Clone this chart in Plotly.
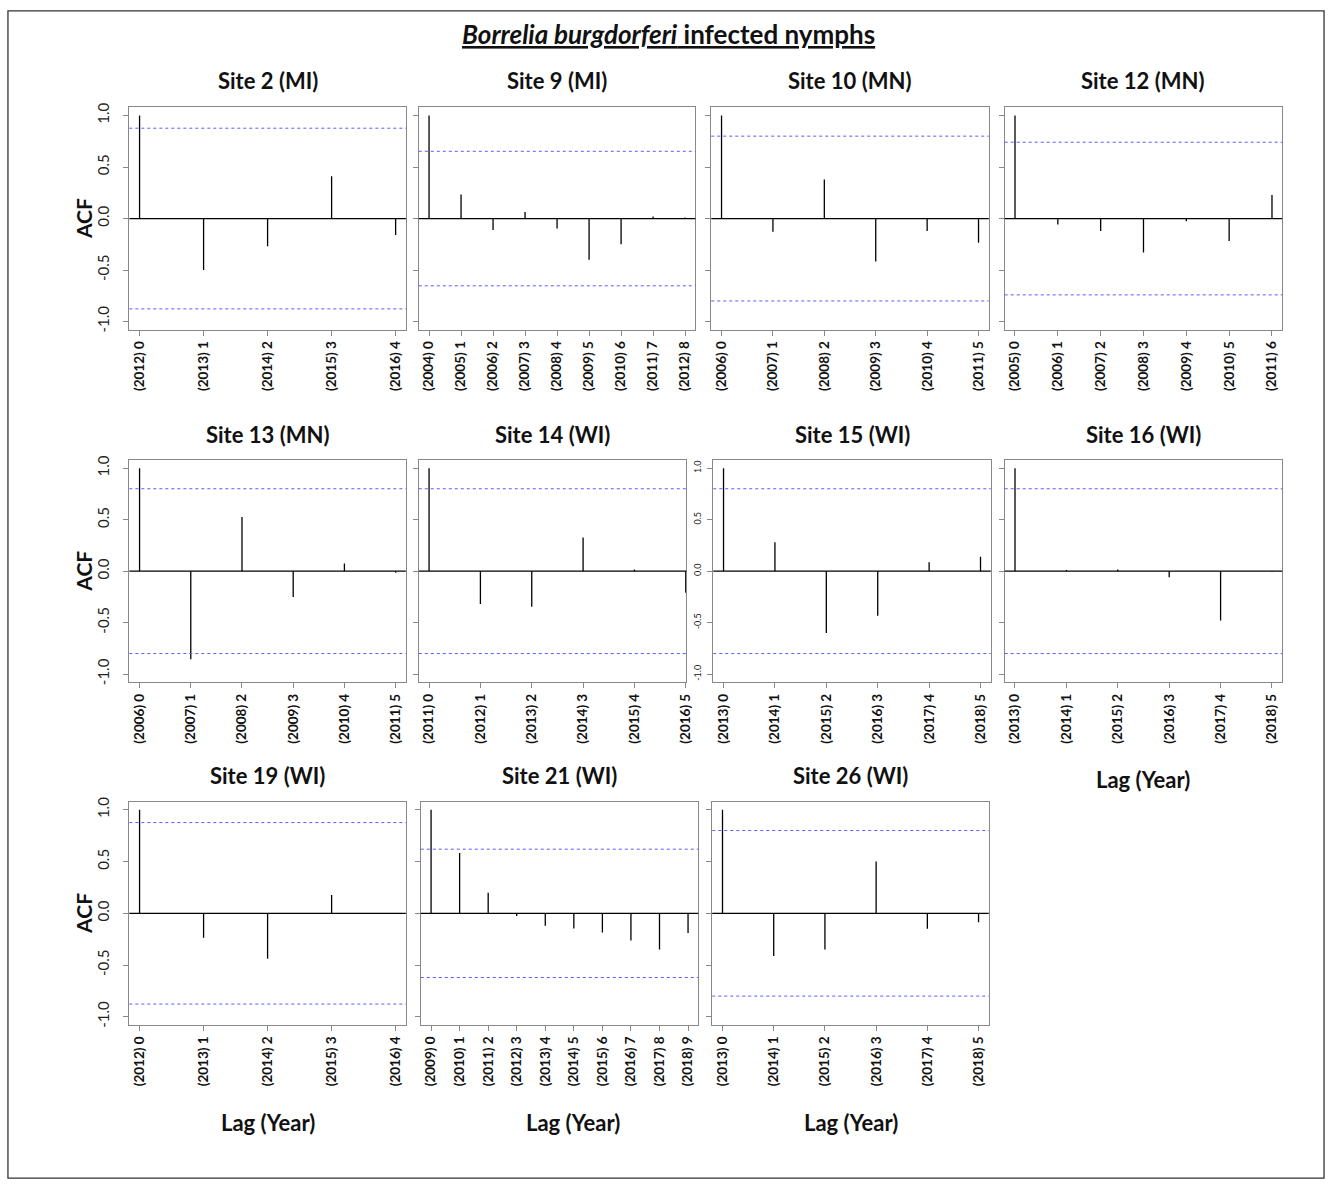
import plotly.graph_objects as go

W, H = 1339, 1186

site_names = ["Site 2 (MI)", "Site 9 (MI)", "Site 10 (MN)", "Site 12 (MN)",
              "Site 13 (MN)", "Site 14 (WI)", "Site 15 (WI)", "Site 16 (WI)",
              "Site 19 (WI)", "Site 21 (WI)", "Site 26 (WI)"]
start_years = [2012, 2004, 2006, 2005, 2006, 2011, 2013, 2013, 2012, 2009, 2013]

acf_site2 = [1.0, -0.50, -0.27, 0.41, -0.16]
acf_site9 = [1.0, 0.234, -0.11, 0.064, -0.096, -0.40, -0.25, 0.02, 0.01]
acf_site10 = [1.0, -0.128, 0.38, -0.417, -0.12, -0.234]
acf_site12 = [1.0, -0.058, -0.12, -0.33, -0.026, -0.218, 0.228]
acf_site13 = [1.0, -0.856, 0.526, -0.25, 0.074, -0.016]
acf_site14 = [1.0, -0.32, -0.346, 0.327, 0.016, -0.21]
acf_site15 = [1.0, 0.28, -0.60, -0.433, 0.087, 0.141]
acf_site16 = [1.0, 0.01, 0.016, -0.058, -0.48, -0.006]
acf_site19 = [1.0, -0.237, -0.44, 0.176, -0.005]
acf_site21 = [1.0, 0.583, 0.20, -0.026, -0.12, -0.147, -0.186, -0.263, -0.35, -0.19]
acf_site26 = [1.0, -0.413, -0.35, 0.50, -0.15, -0.087]

acf_all = [acf_site2, acf_site9, acf_site10, acf_site12, acf_site13, acf_site14,
           acf_site15, acf_site16, acf_site19, acf_site21, acf_site26]

ci_bounds = [0.877, 0.653, 0.80, 0.741, 0.80, 0.80, 0.80, 0.80, 0.877, 0.62, 0.80]

ytick_vals = [-1.0, -0.5, 0.0, 0.5, 1.0]
ytick_text = ["-1.0", "-0.5", "0.0", "0.5", "1.0"]

# panel boxes in page pixels: left, right, top, bottom
boxes = [
    (130, 408, 103, 327), (421, 699, 103, 327), (715, 994, 103, 327), (1010, 1289, 103, 327),
    (130, 408, 458, 682), (421, 690, 458, 682), (717, 996, 458, 682), (1010, 1289, 458, 682),
    (130, 408, 802, 1027), (423, 702, 802, 1027), (716, 994, 802, 1027),
]
title_y = [76, 76, 76, 76, 432, 432, 432, 432, 776, 776, 776]
first_col = {0, 4, 8}


def px(x):
    return x / W


def py(y):
    return 1 - y / H


FONT = "Lato"
fig = go.Figure()
shapes = []
annotations = []
layout = {}

for i, acf in enumerate(acf_all):
    n = i + 1
    xs, ys = [], []
    lags = list(range(len(acf)))
    for k, v in zip(lags, acf):
        xs += [k, k, None]
        ys += [0, v, None]
    xref = "x" if n == 1 else f"x{n}"
    yref = "y" if n == 1 else f"y{n}"
    fig.add_trace(go.Scatter(x=xs, y=ys, mode="lines", xaxis=xref, yaxis=yref,
                             line=dict(color="black", width=1.3),
                             showlegend=False, hoverinfo="skip"))
    l, r, t, b = boxes[i]
    maxlag = lags[-1]
    if i == 5:
        xr = [-0.04 * maxlag, maxlag + 0.012]
    else:
        xr = [-0.04 * maxlag, maxlag * 1.04]
    xkey = "xaxis" if n == 1 else f"xaxis{n}"
    ykey = "yaxis" if n == 1 else f"yaxis{n}"
    layout[xkey] = dict(
        domain=[px(l), px(r)], anchor=yref, range=xr,
        tickmode="array", tickvals=lags,
        ticktext=[f"<b>({start_years[i] + k}) {k}</b>" for k in lags],
        tickangle=-90, ticks="outside", ticklen=5, tickcolor="#888",
        tickfont=dict(family=FONT, size=13.5, color="#111"),
        showline=True, mirror=True, linecolor="#888", linewidth=1,
        showgrid=False, zeroline=False, fixedrange=True,
    )
    if i == 6:
        yfont = dict(family=FONT, size=9, color="#222")
        show_lab = True
    else:
        yfont = dict(family=FONT, size=15, color="#222")
        show_lab = i in first_col
    layout[ykey] = dict(
        domain=[py(b), py(t)], anchor=xref, range=[-1.08, 1.08],
        tickmode="array", tickvals=ytick_vals, ticktext=ytick_text,
        showticklabels=show_lab, tickangle=-90,
        ticks="outside", ticklen=5, tickcolor="#888", tickfont=yfont,
        ticklabelstandoff=8 if i != 6 else 3,
        showline=True, mirror=True, linecolor="#888", linewidth=1,
        showgrid=False, zeroline=False, fixedrange=True,
    )
    shapes.append(dict(type="line", xref=f"{xref} domain", yref=yref,
                       x0=0, x1=1, y0=0, y1=0, line=dict(color="black", width=1.3)))
    for s in (1, -1):
        shapes.append(dict(type="line", xref=f"{xref} domain", yref=yref,
                           x0=0, x1=1, y0=s * ci_bounds[i], y1=s * ci_bounds[i],
                           line=dict(color="#5a5aff", width=1, dash="dot")))
    annotations.append(dict(text=f"<b>{site_names[i]}</b>", xref="paper", yref="paper",
                            x=px((l + r) / 2), y=py(title_y[i]), showarrow=False,
                            xanchor="center", yanchor="middle",
                            font=dict(family=FONT, size=22, color="#111")))
    if i in first_col:
        annotations.append(dict(text="<b>ACF</b>", xref="paper", yref="paper",
                                x=px(84), y=py((t + b) / 2), showarrow=False,
                                textangle=-90, xanchor="center", yanchor="middle",
                                font=dict(family=FONT, size=21, color="#111")))

for (cx, cy) in [(269, 1125), (576, 1125), (855, 1125), (1149, 780)]:
    annotations.append(dict(text="<b>Lag (Year)</b>", xref="paper", yref="paper",
                            x=px(cx), y=py(cy), showarrow=False,
                            xanchor="center", yanchor="middle",
                            font=dict(family=FONT, size=22, color="#111")))

annotations.append(dict(text="<u><b><i>Borrelia burgdorferi</i> infected nymphs</b></u>",
                        xref="paper", yref="paper", x=px(672), y=py(29),
                        showarrow=False, xanchor="center", yanchor="middle",
                        font=dict(family=FONT, size=26, color="#111")))

shapes.append(dict(type="rect", xref="paper", yref="paper",
                   x0=px(8), x1=px(1331), y0=py(1181), y1=py(6),
                   line=dict(color="#333", width=1.3)))

fig.update_layout(width=W, height=H, margin=dict(l=0, r=0, t=0, b=0),
                  paper_bgcolor="white", plot_bgcolor="white",
                  shapes=shapes, annotations=annotations, **layout)

fig.write_html("out.html",
               config={"displayModeBar": False},
               post_script="document.body.style.margin='0';"
                           "document.body.style.overflow='hidden';"
                           "document.documentElement.style.overflow='hidden';")
